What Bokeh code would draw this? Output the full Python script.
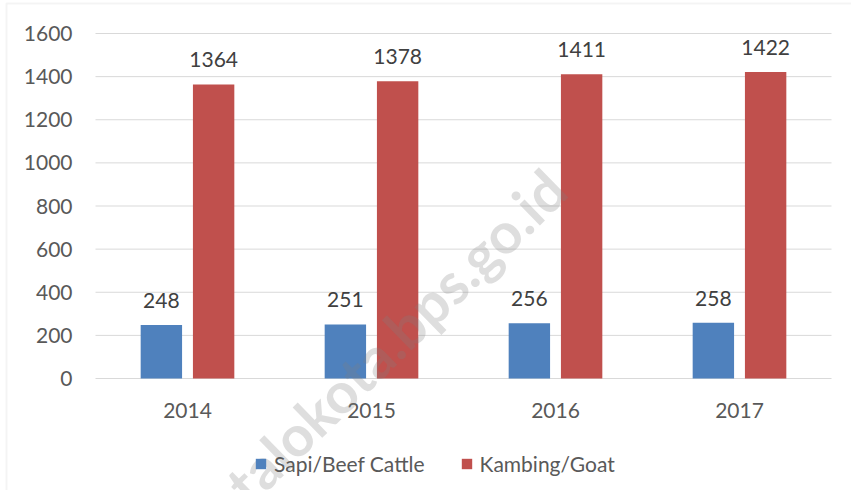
from bokeh.plotting import figure
from bokeh.models import (ColumnDataSource, LabelSet, Legend, LegendItem, Label,
                          Range1d, BoxAnnotation)
from bokeh.core.properties import value
from bokeh.embed import file_html
from bokeh.resources import INLINE

years = ["2014", "2015", "2016", "2017"]
sapi = [248, 251, 256, 258]
kambing = [1364, 1378, 1411, 1422]
y_ticks = [0, 200, 400, 600, 800, 1000, 1200, 1400, 1600]
series_names = ["Sapi/Beef Cattle", "Kambing/Goat"]
watermark = "gorontalokota.bps.go.id"

FONT = "Lato"
TXT = "#595959"
FS = "21px"

# canvas geometry (pixels)
W, H = 851, 490
PLOT_L, PLOT_R = 95, 831      # plot area left/right
PLOT_T, PLOT_B = 33, 378      # top (=1600) and zero line
n = len(years)
cat_px = (PLOT_R - PLOT_L) / n
y_max = y_ticks[-1]
px_per_unit = (PLOT_B - PLOT_T) / y_max
x_start = -PLOT_L / cat_px
x_end = (W - PLOT_L) / cat_px
y_start = -(H - PLOT_B) / px_per_unit
y_end = y_max + PLOT_T / px_per_unit

xc = [i + 0.5 for i in range(n)]
DODGE, BW = 0.142, 0.225

src = ColumnDataSource(dict(
    x=xc, xs=[v - DODGE for v in xc], xk=[v + DODGE for v in xc],
    years=years, sapi=sapi, kambing=kambing, zero=[0] * n,
    sapi_lbl=[str(v) for v in sapi], kambing_lbl=[str(v) for v in kambing],
))
tsrc = ColumnDataSource(dict(y=y_ticks, lbl=[str(t) for t in y_ticks],
                             x0=[0] * len(y_ticks), x1=[n] * len(y_ticks)))

p = figure(x_range=Range1d(x_start, x_end), y_range=Range1d(y_start, y_end),
           width=W, height=H, x_axis_type=None, y_axis_type=None,
           output_backend="svg", toolbar_location=None, min_border=0)
p.outline_line_color = None
p.background_fill_color = "white"
p.border_fill_color = "white"

# gridlines
p.segment(x0="x0", x1="x1", y0="y", y1="y", source=tsrc, line_color="#d9d9d9", line_width=1)

b1 = p.vbar(x="xs", top="sapi", width=BW, source=src, fill_color="#4F81BD", line_color=None)
b2 = p.vbar(x="xk", top="kambing", width=BW, source=src, fill_color="#C0504D", line_color=None)

for xcol, col in (("xs", "sapi"), ("xk", "kambing")):
    p.add_layout(LabelSet(x=xcol, y=col, text=col + "_lbl", source=src, text_align="center",
                          text_baseline="alphabetic", y_offset=17, text_font=value(FONT),
                          text_font_size=value(FS), text_color="#404040"))

# category labels
p.add_layout(LabelSet(x="x", y="zero", text="years", source=src, text_align="center",
                      text_baseline="middle", y_offset=-32, text_font=value(FONT),
                      text_font_size=value(FS), text_color=TXT))
# value-axis labels
p.add_layout(LabelSet(x="x0", y="y", text="lbl", source=tsrc, text_align="right",
                      text_baseline="middle", x_offset=-23, text_font=value(FONT),
                      text_font_size=value(FS), text_color=TXT))

wm = Label(x=2.5, y=923, text=watermark, angle=0.773, text_align="right",
           text_baseline="middle", text_font=FONT, text_font_size="57px",
           text_font_style="bold", text_color="#7f7f7f", text_alpha=0.26)
p.add_layout(wm)

legend = Legend(items=[LegendItem(label=series_names[0], renderers=[b1]),
                       LegendItem(label=series_names[1], renderers=[b2])],
                orientation="horizontal", location=(254, 14),
                glyph_width=13, glyph_height=13, label_standoff=7, spacing=35,
                label_text_font=FONT, label_text_font_size=FS, label_text_color=TXT,
                border_line_color=None, background_fill_alpha=0, padding=0, margin=0)
p.add_layout(legend)

frame_box = BoxAnnotation(left=6, right=3000, top=3, bottom=3000,
                          left_units="canvas", right_units="canvas",
                          top_units="canvas", bottom_units="canvas",
                          fill_alpha=0, line_color="#d9d9d9", line_width=2)
p.add_layout(frame_box)

open("out.html", "w").write(file_html(p, INLINE))
